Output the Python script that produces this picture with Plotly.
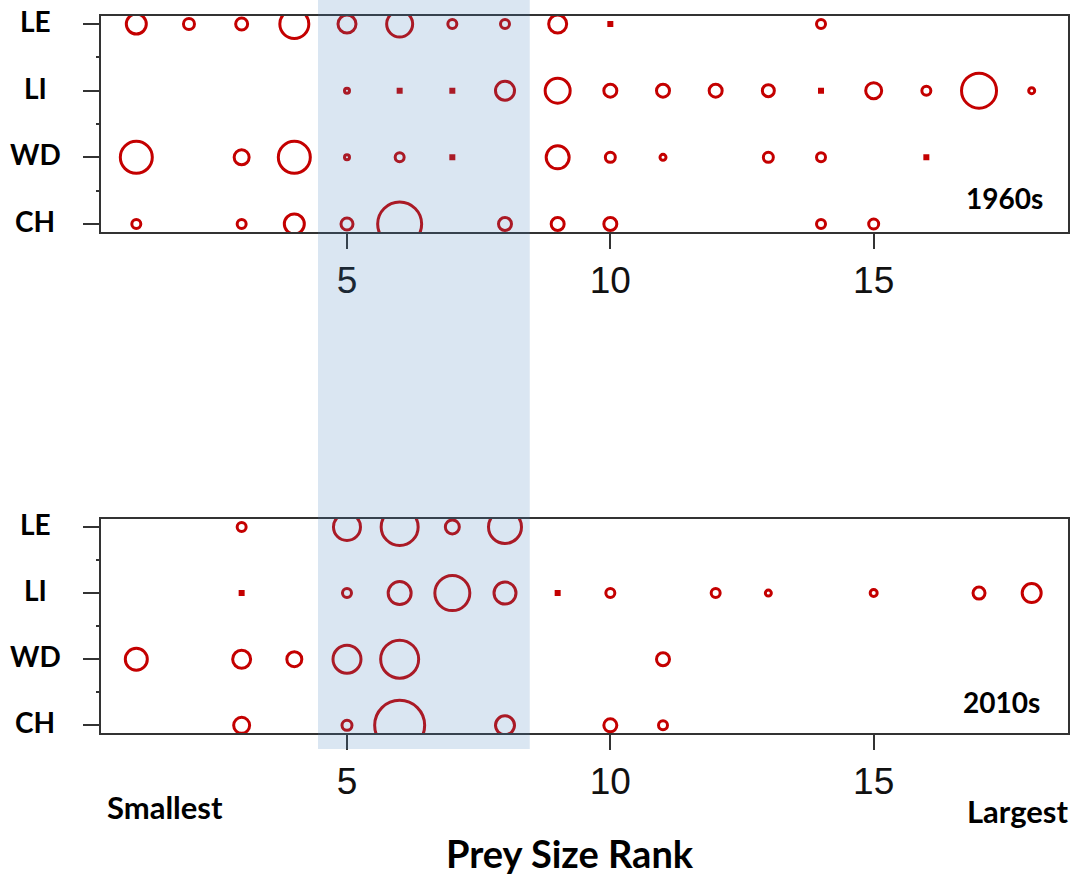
import plotly.graph_objects as go

W, H = 1071, 876

# Predator rows, bottom to top
predators = ["CH", "WD", "LI", "LE"]

# ---- 1960s: prey size rank and share of diet (%) ----
le_1960_rank = [1, 2, 3, 4, 5, 6, 7, 8, 9, 10, 14]
le_1960_pct = [11.5, 7, 7.5, 16, 10.5, 14.5, 6, 6, 10.5, 0.5, 6]
li_1960_rank = [5, 6, 7, 8, 9, 10, 11, 12, 13, 14, 15, 16, 17, 18]
li_1960_pct = [4, 0.5, 0.5, 11, 14, 8, 8, 8, 7.5, 0.5, 9.5, 6, 19, 4.5]
wd_1960_rank = [1, 3, 4, 5, 6, 7, 9, 10, 11, 13, 14, 16]
wd_1960_pct = [17.5, 9, 17.5, 4, 6, 0.5, 13, 6.5, 4.5, 6.5, 6, 0.5]
ch_1960_rank = [1, 3, 4, 5, 6, 8, 9, 10, 14, 15]
ch_1960_pct = [6, 6, 11.5, 7.5, 23.5, 8, 8, 8, 6, 6.5]

# ---- 2010s ----
le_2010_rank = [3, 5, 6, 7, 8]
le_2010_pct = [6, 15, 20, 8.5, 18]
li_2010_rank = [3, 5, 6, 7, 8, 9, 10, 12, 13, 15, 17, 18]
li_2010_pct = [0.5, 6, 13, 19, 12.5, 0.5, 6, 6, 4.5, 5, 7.5, 11]
wd_2010_rank = [1, 3, 4, 5, 6, 11]
wd_2010_pct = [12.5, 10.5, 9, 15.5, 20.5, 8]
ch_2010_rank = [3, 5, 6, 8, 10, 11]
ch_2010_pct = [9.5, 6.5, 26.5, 11, 8, 6]

x_ticks = [5, 10, 15]
panel_labels = ["1960s", "2010s"]
band_ranks = (4.45, 8.47)  # highlighted mid-size prey ranks

RED = "#c40000"
LW = 3
BOLD = "Lato"

fig = go.Figure()

panels = [
    ("x", "y", {"LE": (le_1960_rank, le_1960_pct), "LI": (li_1960_rank, li_1960_pct),
                "WD": (wd_1960_rank, wd_1960_pct), "CH": (ch_1960_rank, ch_1960_pct)}),
    ("x2", "y2", {"LE": (le_2010_rank, le_2010_pct), "LI": (li_2010_rank, li_2010_pct),
                  "WD": (wd_2010_rank, wd_2010_pct), "CH": (ch_2010_rank, ch_2010_pct)}),
]

for xa, ya, rows in panels:
    for name, (ranks, pct) in rows.items():
        yi = predators.index(name) + 1
        symbols = ["circle-open" if v >= 1 else "square" for v in pct]
        sizes = [2 * v - LW if v >= 1 else 6 for v in pct]
        widths = [LW if v >= 1 else 0 for v in pct]
        fig.add_trace(go.Scatter(
            x=ranks, y=[yi] * len(ranks), xaxis=xa, yaxis=ya,
            mode="markers", showlegend=False, hoverinfo="skip",
            cliponaxis=True,
            marker=dict(symbol=symbols, size=sizes, color=RED, opacity=1,
                        line=dict(width=widths, color=RED)),
        ))

x_dom = [100.5 / W, 1067.5 / W]
top_dom = [1 - 232 / H, 1 - 16 / H]
bot_dom = [1 - 733.3 / H, 1 - 519 / H]

xcommon = dict(
    domain=x_dom, range=[0.32, 18.68], tickvals=x_ticks, ticks="outside",
    ticklen=15, tickwidth=1.5, tickcolor="#333", showline=True, linecolor="#333",
    linewidth=1.5, mirror=True, showgrid=False, zeroline=False,
    tickfont=dict(family="Liberation Sans", size=37, color="#111"),
    fixedrange=True,
)
ycommon = dict(
    range=[0.88, 4.12], tickvals=[1, 2, 3, 4], ticks="outside", ticklen=16,
    tickwidth=1.5, tickcolor="#333", showline=True, linecolor="#333",
    linewidth=1.5, mirror=True, showgrid=False, zeroline=False,
    showticklabels=False, fixedrange=True,
    minor=dict(tickvals=[1.5, 2.5, 3.5], ticks="outside", ticklen=3,
               tickwidth=1.5, tickcolor="#333"),
)

annotations = []
for ya in ["y", "y2"]:
    for i, name in enumerate(predators):
        annotations.append(dict(
            text=name, x=35 / W, xref="paper", y=i + 1, yref=ya, yshift=3,
            showarrow=False, xanchor="center", yanchor="middle",
            font=dict(family=BOLD, size=28, color="black", weight="bold"),
        ))

annotations += [
    dict(text=panel_labels[0], x=1004 / W, y=1 - 198 / H, xref="paper", yref="paper",
         showarrow=False, xanchor="center", yanchor="middle",
         font=dict(family=BOLD, size=28, color="black", weight="bold")),
    dict(text=panel_labels[1], x=1001 / W, y=1 - 702 / H, xref="paper", yref="paper",
         showarrow=False, xanchor="center", yanchor="middle",
         font=dict(family=BOLD, size=28, color="black", weight="bold")),
    dict(text="Smallest", x=165 / W, y=1 - 807 / H, xref="paper", yref="paper",
         showarrow=False, xanchor="center", yanchor="middle",
         font=dict(family=BOLD, size=31, color="black", weight="bold")),
    dict(text="Largest", x=1017 / W, y=1 - 811 / H, xref="paper", yref="paper",
         showarrow=False, xanchor="center", yanchor="middle",
         font=dict(family=BOLD, size=31, color="black", weight="bold")),
    dict(text="Prey Size Rank", x=570 / W, y=1 - 853 / H, xref="paper", yref="paper",
         showarrow=False, xanchor="center", yanchor="middle",
         font=dict(family=BOLD, size=38, color="black", weight="bold")),
]

fig.update_layout(
    width=W, height=H, autosize=False,
    margin=dict(l=0, r=0, t=0, b=0, pad=0),
    paper_bgcolor="white", plot_bgcolor="rgba(0,0,0,0)",
    xaxis=dict(anchor="y", **xcommon),
    xaxis2=dict(anchor="y2", **xcommon),
    yaxis=dict(anchor="x", domain=top_dom, **ycommon),
    yaxis2=dict(anchor="x2", domain=bot_dom, **ycommon),
    annotations=annotations,
    shapes=[dict(
        type="rect", xref="x", yref="paper",
        x0=band_ranks[0], x1=band_ranks[1], y0=1 - 749 / H, y1=1,
        fillcolor="rgb(70,130,190)", opacity=0.2, line=dict(width=0),
        layer="above",
    )],
)

fig.write_html("out.html")
